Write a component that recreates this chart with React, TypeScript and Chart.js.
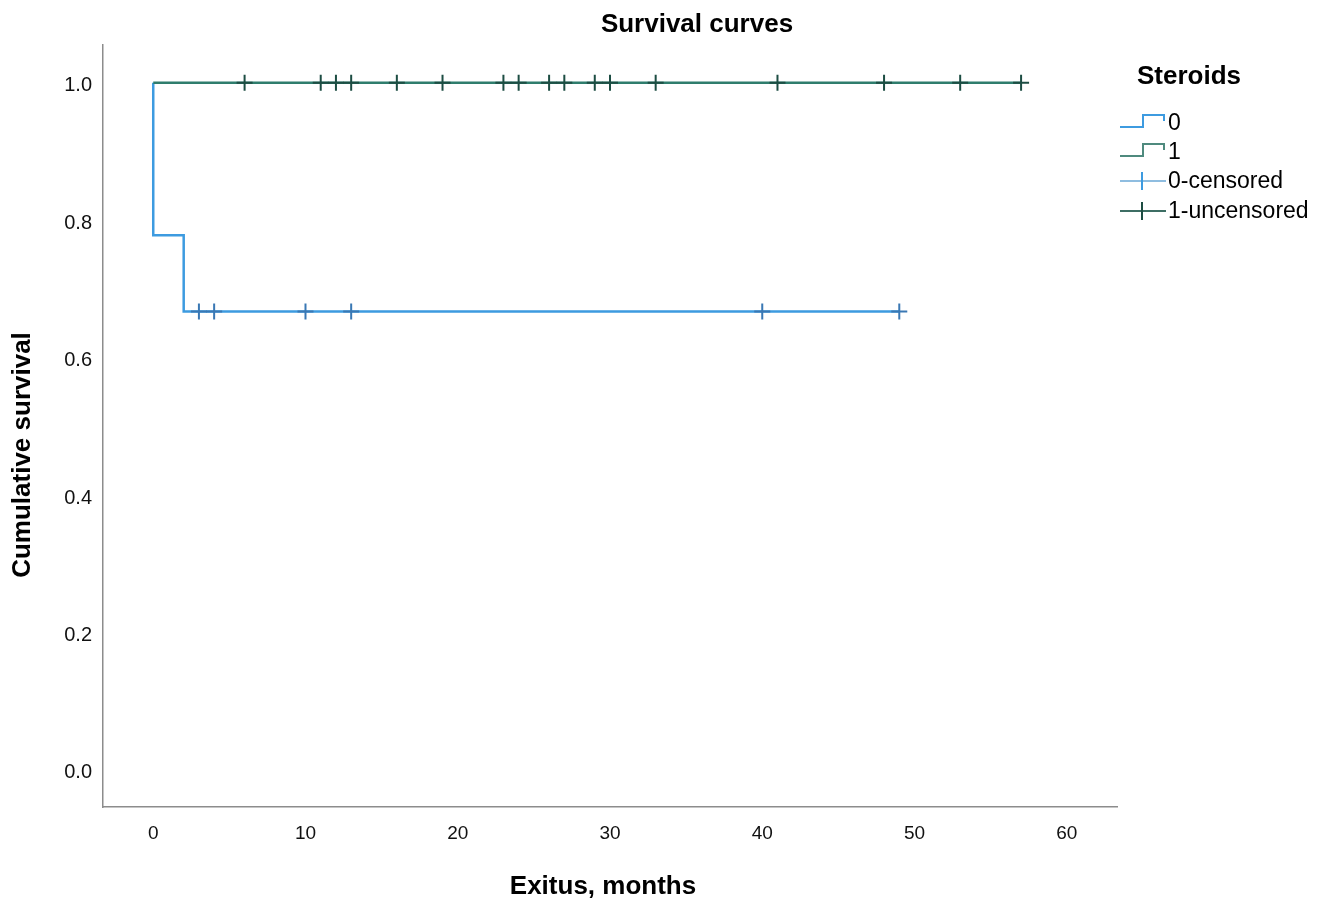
import React, { useEffect, useRef } from "react";
import { Chart, registerables } from "chart.js";

Chart.register(...registerables);

// ---- Data ----
const GROUP0_EVENT_TIMES = [0, 2];
const GROUP0_EVENT_SURVIVAL = [0.778, 0.667];
const GROUP0_CENSORED = [3, 4, 10, 13, 40, 49];

const GROUP1_EVENT_TIMES: number[] = [];
const GROUP1_EVENT_SURVIVAL: number[] = [];
const GROUP1_CENSORED = [6, 11, 12, 13, 16, 19, 23, 24, 26, 27, 29, 30, 33, 41, 48, 53, 57];

const X_TICKS = [0, 10, 20, 30, 40, 50, 60];
const Y_TICKS = [0, 0.2, 0.4, 0.6, 0.8, 1.0];

const LEGEND_TITLE = "Steroids";
const LEGEND_LABELS = ["0", "1", "0-censored", "1-uncensored"];

const BLUE = "#3d9be0";
const BLUE_CROSS = "#3a78b4";
const TEAL = "#2f7d6d";
const TEAL_CROSS = "#1d4d43";
const FONT = "'Liberation Sans', Arial, Helvetica, sans-serif";

function kmCurve(times: number[], surv: number[], censored: number[]) {
  const pts: { x: number; y: number }[] = [{ x: 0, y: 1 }];
  times.forEach((t, i) => pts.push({ x: t, y: surv[i] }));
  const last = pts[pts.length - 1].y;
  const lastT = Math.max(...censored, ...times);
  pts.push({ x: lastT, y: last });
  return pts;
}

function survAt(t: number, times: number[], surv: number[]) {
  let s = 1;
  times.forEach((et, i) => {
    if (et <= t) s = surv[i];
  });
  return s;
}

const overlayPlugin = {
  id: "overlay",
  afterDraw(chart: any) {
    const ctx = chart.ctx as CanvasRenderingContext2D;
    ctx.save();
    ctx.fillStyle = "#000";
    ctx.textBaseline = "middle";
    // Title
    ctx.font = `bold 26px ${FONT}`;
    ctx.textAlign = "center";
    ctx.fillText("Survival curves", 697, 25);
    // X axis title
    ctx.fillText("Exitus, months", 603, 887);
    // Y axis title
    ctx.save();
    ctx.translate(23, 455);
    ctx.rotate(-Math.PI / 2);
    ctx.fillText("Cumulative survival", 0, 0);
    ctx.restore();

    // Legend
    ctx.textAlign = "left";
    ctx.font = `bold 26px ${FONT}`;
    ctx.fillText(LEGEND_TITLE, 1137, 77);
    ctx.font = `23px ${FONT}`;
    const rows = [123, 152, 181, 211];
    const x0 = 1120;
    const x1 = 1143;
    const x2 = 1164;
    ctx.lineWidth = 2;
    // step icons
    const stepColors = [BLUE, "#4f8a7e"];
    for (let i = 0; i < 2; i++) {
      const cy = rows[i];
      ctx.strokeStyle = stepColors[i];
      ctx.beginPath();
      ctx.moveTo(x0, cy + 4);
      ctx.lineTo(x1, cy + 4);
      ctx.lineTo(x1, cy - 8);
      ctx.lineTo(x2, cy - 8);
      ctx.lineTo(x2, cy - 2);
      ctx.stroke();
    }
    // cross icons
    const crossH = ["#8fbde0", "#3d6e64"];
    const crossV = [BLUE, TEAL_CROSS];
    for (let i = 0; i < 2; i++) {
      const cy = rows[i + 2];
      ctx.strokeStyle = crossH[i];
      ctx.beginPath();
      ctx.moveTo(x0, cy);
      ctx.lineTo(1166, cy);
      ctx.stroke();
      ctx.strokeStyle = crossV[i];
      ctx.beginPath();
      ctx.moveTo(1142, cy - 9);
      ctx.lineTo(1142, cy + 9);
      ctx.stroke();
    }
    ctx.fillStyle = "#000";
    LEGEND_LABELS.forEach((lab, i) => {
      ctx.fillText(lab, 1168, rows[i] + 1);
    });
    ctx.restore();
  },
};

export default function App() {
  const ref = useRef<HTMLCanvasElement | null>(null);

  useEffect(() => {
    document.body.style.margin = "0";
    document.body.style.background = "#fff";
    if (!ref.current) return;
    const curve0 = kmCurve(GROUP0_EVENT_TIMES, GROUP0_EVENT_SURVIVAL, GROUP0_CENSORED);
    const curve1 = kmCurve(GROUP1_EVENT_TIMES, GROUP1_EVENT_SURVIVAL, GROUP1_CENSORED);
    const cens0 = GROUP0_CENSORED.map((t) => ({ x: t, y: survAt(t, GROUP0_EVENT_TIMES, GROUP0_EVENT_SURVIVAL) }));
    const cens1 = GROUP1_CENSORED.map((t) => ({ x: t, y: survAt(t, GROUP1_EVENT_TIMES, GROUP1_EVENT_SURVIVAL) }));

    const chart = new Chart(ref.current, {
      type: "line",
      data: {
        datasets: [
          {
            label: "0-censored",
            data: cens0,
            showLine: false,
            pointStyle: "cross",
            pointRadius: 8,
            pointBorderWidth: 2,
            pointBorderColor: BLUE_CROSS,
            pointBackgroundColor: BLUE_CROSS,
            order: 1,
          },
          {
            label: "1-uncensored",
            data: cens1,
            showLine: false,
            pointStyle: "cross",
            pointRadius: 8,
            pointBorderWidth: 2,
            pointBorderColor: TEAL_CROSS,
            pointBackgroundColor: TEAL_CROSS,
            order: 0,
          },
          {
            label: "0",
            data: curve0,
            stepped: "before",
            borderColor: BLUE,
            borderWidth: 2.5,
            pointRadius: 0,
            fill: false,
            order: 3,
          },
          {
            label: "1",
            data: curve1,
            stepped: "before",
            borderColor: TEAL,
            borderWidth: 2.5,
            pointRadius: 0,
            fill: false,
            order: 2,
          },
        ] as any,
      },
      options: {
        responsive: false,
        animation: false,
        events: [],
        layout: { padding: { top: 45, right: 1331 - 1117, left: 0, bottom: 0 } },
        plugins: {
          legend: { display: false },
          title: { display: false },
          tooltip: { enabled: false },
        },
        scales: {
          x: {
            type: "linear",
            min: -3.3,
            max: 63.3,
            grid: { display: false },
            border: { display: true, color: "#8c8c8c", width: 1.5 },
            afterBuildTicks: (s: any) => {
              s.ticks = X_TICKS.map((v) => ({ value: v }));
            },
            afterFit: (s: any) => {
              s.height = 93;
            },
            ticks: {
              padding: 7,
              color: "#111",
              font: { family: FONT, size: 19 },
              maxRotation: 0,
              callback: (v: any) => String(v),
            },
          },
          y: {
            type: "linear",
            min: -0.054,
            max: 1.055,
            grid: { display: false },
            border: { display: true, color: "#8c8c8c", width: 1.5 },
            afterBuildTicks: (s: any) => {
              s.ticks = Y_TICKS.map((v) => ({ value: v }));
            },
            afterFit: (s: any) => {
              s.width = 103;
            },
            ticks: {
              padding: 3,
              labelOffset: 3,
              color: "#111",
              font: { family: FONT, size: 20 },
              callback: (v: any) => Number(v).toFixed(1),
            },
          },
        },
      },
      plugins: [overlayPlugin],
    });
    return () => chart.destroy();
  }, []);

  return (
    <div style={{ width: 1331, height: 900, position: "relative", background: "#fff" }}>
      <canvas ref={ref} width={1331} height={900} style={{ display: "block" }} />
    </div>
  );
}
